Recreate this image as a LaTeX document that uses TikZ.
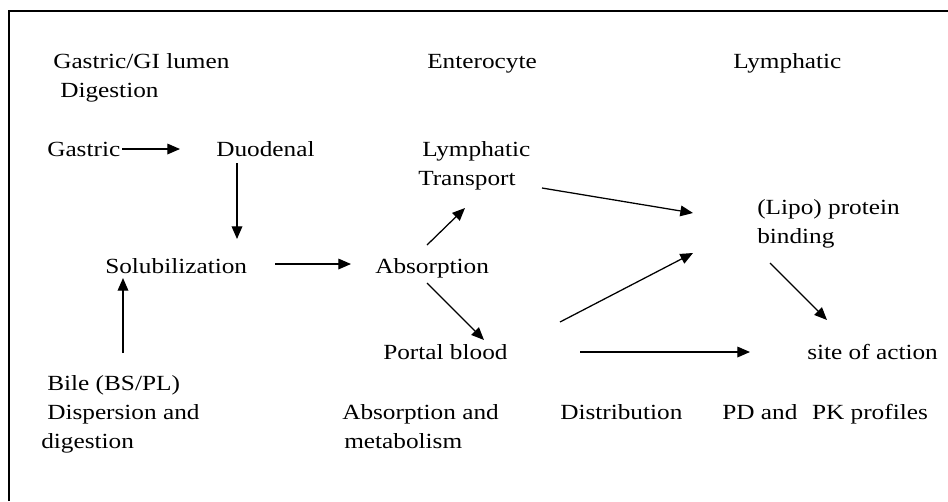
\documentclass[tikz,border=0pt]{standalone}
\usepackage{fontspec}
\setmainfont{Liberation Serif}[FakeStretch=1.17]
\usetikzlibrary{arrows.meta}
\begin{document}
\begin{tikzpicture}[x=0.75pt,y=-0.75pt,
  lbl/.style={font=\fontsize{16.2}{21.75}\selectfont, inner sep=0pt, anchor=base west, align=left},
  arr/.style={-{Triangle[length=9.5pt,width=8pt]}, line width=0.95pt},
  frame/.style={line width=1.6pt}]
\useasboundingbox (0,0) rectangle (948,501);
\draw[frame] (9.3,501) -- (9.3,11) -- (948,11);
% headers (base anchor = last line)
\node[lbl] (hgi) at (53,97) {Gastric/GI lumen\\\hspace*{5.25pt}Digestion};
\node[lbl] (hent) at (427,68) {Enterocyte};
\node[lbl] (hlym) at (733,68) {Lymphatic};
% main nodes
\node[lbl] (gastric) at (47,156) {Gastric};
\node[lbl] (duodenal) at (216,156) {Duodenal};
\node[lbl] (solub) at (105,273) {Solubilization};
\node[lbl] (absorp) at (375,273) {Absorption};
\node[lbl] (lymtr) at (418,185) {\hspace*{3pt}Lymphatic\\Transport};
\node[lbl] (portal) at (383,359) {Portal blood};
\node[lbl] (lipo) at (757,243) {(Lipo) protein\\binding};
\node[lbl] (site) at (807,359) {site of action};
\node[lbl] (bile) at (41,448) {\hspace*{4.5pt}Bile (BS/PL)\\\hspace*{4.5pt}Dispersion and\\digestion};
% bottom row
\node[lbl] (absmet) at (342,448) {Absorption and\\\hspace*{1.5pt}metabolism};
\node[lbl] (distr) at (560,419) {Distribution};
\node[lbl] (pdpk) at (722,419) {PD and\hspace{11pt}PK profiles};
% connectors
\draw[arr] ([shift={(75,-7)}]gastric.base west) -- ([shift={(-36,-7)}]duodenal.base west);
\draw[arr] ([shift={(21,7)}]duodenal.base west) -- ([shift={(132,-34)}]solub.base west);
\draw[arr] ([shift={(82,-95)}]bile.base west) -- ([shift={(18,5)}]solub.base west);
\draw[arr] ([shift={(170,-9)}]solub.base west) -- ([shift={(-24,-9)}]absorp.base west);
\draw[arr] ([shift={(52,-28)}]absorp.base west) -- ([shift={(47,23)}]lymtr.base west);
\draw[arr] ([shift={(52,10)}]absorp.base west) -- ([shift={(101,-19)}]portal.base west);
\draw[arr] ([shift={(124,3)}]lymtr.base west) -- ([shift={(-64,-30)}]lipo.base west);
\draw[arr] ([shift={(177,-37)}]portal.base west) -- ([shift={(-64,10)}]lipo.base west);
\draw[arr] ([shift={(197,-7)}]portal.base west) -- ([shift={(-57,-7)}]site.base west);
\draw[arr] ([shift={(13,20)}]lipo.base west) -- ([shift={(20,-39)}]site.base west);
\end{tikzpicture}
\end{document}
